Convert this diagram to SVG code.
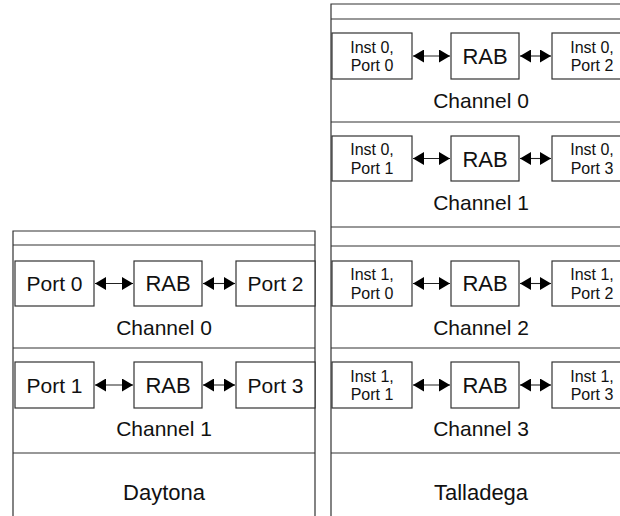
<svg xmlns="http://www.w3.org/2000/svg" width="620" height="516" viewBox="0 0 620 516">
  <style>
    .frame { fill: none; stroke: #333; stroke-width: 1.2; }
    .box { fill: #fff; stroke: #333; stroke-width: 1.2; }
    .lbl { font-family: "Liberation Sans", Arial, sans-serif; font-size: 21px; fill: #111; text-anchor: middle; }
    .big { font-family: "Liberation Sans", Arial, sans-serif; font-size: 22px; fill: #111; text-anchor: middle; }
    .sm { font-family: "Liberation Sans", Arial, sans-serif; font-size: 16px; fill: #111; text-anchor: middle; }
    .link { stroke: #222; stroke-width: 1.1; fill: none; marker-start: url(#head-start); marker-end: url(#head-end); }
  </style>
  <defs>
    <marker id="head-end" viewBox="0 0 11 13" refX="11" refY="6.5" markerWidth="11" markerHeight="13" markerUnits="userSpaceOnUse" orient="auto" preserveAspectRatio="none">
      <path d="M0,0 L11,6.5 L0,13 Z" fill="#000"/>
    </marker>
    <marker id="head-start" viewBox="0 0 11 13" refX="0" refY="6.5" markerWidth="11" markerHeight="13" markerUnits="userSpaceOnUse" orient="auto" preserveAspectRatio="none">
      <path d="M11,0 L0,6.5 L11,13 Z" fill="#000"/>
    </marker>
  </defs>
  <rect width="620" height="516" fill="#fff"/>

  <!-- Daytona frame -->
  <g id="daytona">
    <path class="frame" d="M13,517 V231 H315 V517 M13,245 H315 M13,348 H315 M13,453 H315"/>
    <text class="lbl" x="164" y="335">Channel 0</text>
    <text class="lbl" x="164" y="436">Channel 1</text>
    <text class="big" x="164" y="500">Daytona</text>
  </g>

  <!-- Talladega frame -->
  <g id="talladega">
    <path class="frame" d="M331,517 V4 H621 M331,19 H621 M331,122 H621 M331,227 H621 M331,246 H621 M331,348 H621 M331,453 H621"/>
    <text class="lbl" x="481" y="108">Channel 0</text>
    <text class="lbl" x="481" y="210">Channel 1</text>
    <text class="lbl" x="481" y="335">Channel 2</text>
    <text class="lbl" x="481" y="436">Channel 3</text>
    <text class="big" x="481" y="500">Talladega</text>
  </g>

  <!-- Daytona nodes -->
  <g id="d-port0"><rect class="box" x="15" y="261" width="79" height="45"/><text class="lbl" x="54.5" y="291">Port 0</text></g>
  <g id="d-rab0"><rect class="box" x="134" y="261" width="68" height="45"/><text class="big" x="168" y="291">RAB</text></g>
  <g id="d-port2"><rect class="box" x="236" y="261" width="79" height="45"/><text class="lbl" x="275.5" y="291">Port 2</text></g>
  <g id="d-port1"><rect class="box" x="15" y="362" width="79" height="46"/><text class="lbl" x="54.5" y="392.5">Port 1</text></g>
  <g id="d-rab1"><rect class="box" x="134" y="362" width="68" height="46"/><text class="big" x="168" y="392.5">RAB</text></g>
  <g id="d-port3"><rect class="box" x="236" y="362" width="79" height="46"/><text class="lbl" x="275.5" y="392.5">Port 3</text></g>

  <!-- Talladega nodes -->
  <g id="t-i0p0"><rect class="box" x="332" y="33" width="80" height="46"/><text class="sm" x="372" y="52.5">Inst 0,</text><text class="sm" x="372" y="71">Port 0</text></g>
  <g id="t-rab0"><rect class="box" x="451" y="33" width="68" height="46"/><text class="big" x="485" y="64">RAB</text></g>
  <g id="t-i0p2"><rect class="box" x="552" y="33" width="80" height="46"/><text class="sm" x="592" y="52.5">Inst 0,</text><text class="sm" x="592" y="71">Port 2</text></g>

  <g id="t-i0p1"><rect class="box" x="332" y="136" width="80" height="45"/><text class="sm" x="372" y="155">Inst 0,</text><text class="sm" x="372" y="173.5">Port 1</text></g>
  <g id="t-rab1"><rect class="box" x="451" y="136" width="68" height="45"/><text class="big" x="485" y="166.5">RAB</text></g>
  <g id="t-i0p3"><rect class="box" x="552" y="136" width="80" height="45"/><text class="sm" x="592" y="155">Inst 0,</text><text class="sm" x="592" y="173.5">Port 3</text></g>

  <g id="t-i1p0"><rect class="box" x="332" y="261" width="80" height="45"/><text class="sm" x="372" y="280">Inst 1,</text><text class="sm" x="372" y="298.5">Port 0</text></g>
  <g id="t-rab2"><rect class="box" x="451" y="261" width="68" height="45"/><text class="big" x="485" y="291">RAB</text></g>
  <g id="t-i1p2"><rect class="box" x="552" y="261" width="80" height="45"/><text class="sm" x="592" y="280">Inst 1,</text><text class="sm" x="592" y="298.5">Port 2</text></g>

  <g id="t-i1p1"><rect class="box" x="332" y="362" width="80" height="46"/><text class="sm" x="372" y="381.5">Inst 1,</text><text class="sm" x="372" y="400">Port 1</text></g>
  <g id="t-rab3"><rect class="box" x="451" y="362" width="68" height="46"/><text class="big" x="485" y="392.5">RAB</text></g>
  <g id="t-i1p3"><rect class="box" x="552" y="362" width="80" height="46"/><text class="sm" x="592" y="381.5">Inst 1,</text><text class="sm" x="592" y="400">Port 3</text></g>

  <!-- connectors: double-headed links between ports and RABs -->
  <g id="connectors">
    <line class="link" x1="95" y1="283.5" x2="133" y2="283.5"/>
    <line class="link" x1="203" y1="283.5" x2="235" y2="283.5"/>
    <line class="link" x1="95" y1="385" x2="133" y2="385"/>
    <line class="link" x1="203" y1="385" x2="235" y2="385"/>

    <line class="link" x1="413" y1="56" x2="450" y2="56"/>
    <line class="link" x1="520" y1="56" x2="551" y2="56"/>
    <line class="link" x1="413" y1="158.5" x2="450" y2="158.5"/>
    <line class="link" x1="520" y1="158.5" x2="551" y2="158.5"/>
    <line class="link" x1="413" y1="283.5" x2="450" y2="283.5"/>
    <line class="link" x1="520" y1="283.5" x2="551" y2="283.5"/>
    <line class="link" x1="413" y1="385" x2="450" y2="385"/>
    <line class="link" x1="520" y1="385" x2="551" y2="385"/>
  </g>
</svg>
